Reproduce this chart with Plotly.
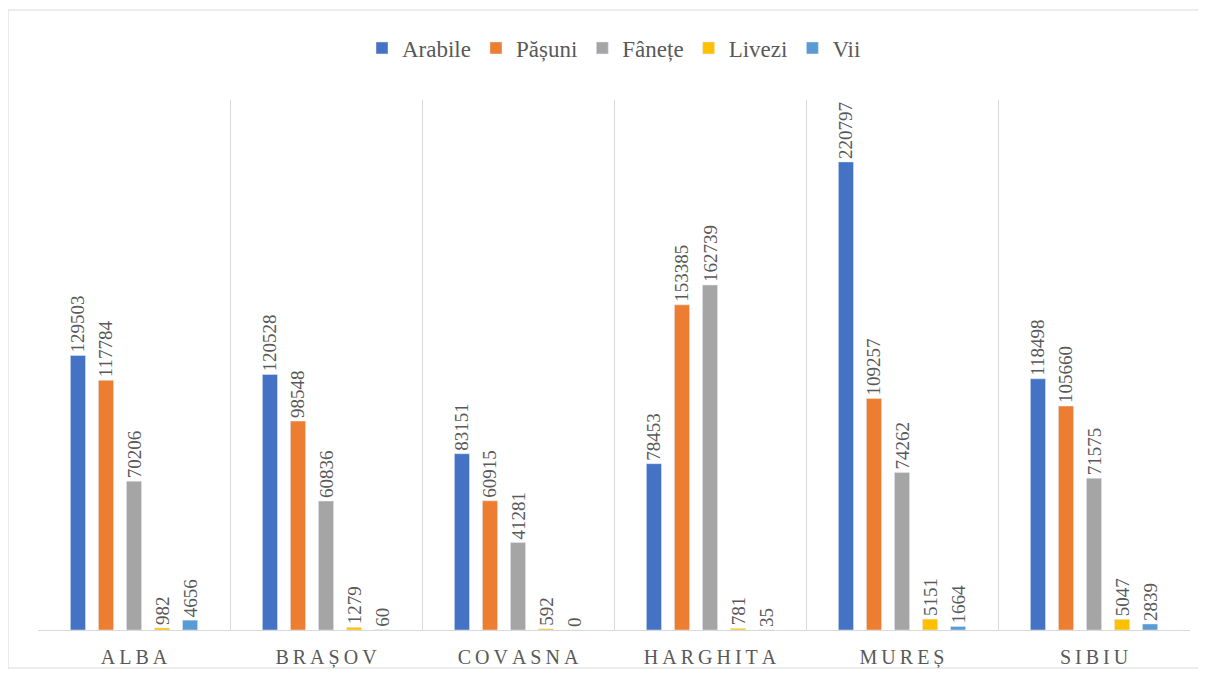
import plotly.graph_objects as go

categories = ["ALBA", "BRAȘOV", "COVASNA", "HARGHITA", "MUREȘ", "SIBIU"]
arabile = [129503, 120528, 83151, 78453, 220797, 118498]
pasuni = [117784, 98548, 60915, 153385, 109257, 105660]
fanete = [70206, 60836, 41281, 162739, 74262, 71575]
livezi = [982, 1279, 592, 781, 5151, 5047]
vii = [4656, 60, 0, 35, 1664, 2839]

series = [
    ("Arabile", arabile, "#4472C4"),
    ("Pășuni", pasuni, "#ED7D31"),
    ("Fânețe", fanete, "#A5A5A5"),
    ("Livezi", livezi, "#FFC000"),
    ("Vii", vii, "#5B9BD5"),
]

FONT = "Liberation Serif, Times New Roman, serif"
TXT = "#595959"

tick_labels = ["\u2009".join(list(c)) for c in categories]

fig = go.Figure()
for name, vals, col in series:
    fig.add_trace(go.Bar(
        name=name, x=categories, y=vals, marker_color=col,
        text=[str(v) for v in vals], textposition="outside", textangle=-90,
        constraintext="none",
        textfont=dict(family=FONT, size=19, color=TXT),
        cliponaxis=False,
    ))

OFF = 8  # page body margin
W, H = 1206 - OFF, 675 - OFF
L, T = 38 - OFF, 100 - OFF
pw, ph = 1152, 530
R, B = W - L - pw, H - T - ph

def px_x(x):
    return (x - OFF - L) / pw

def px_y(y):
    return (T + ph - (y - OFF)) / ph

fig.update_layout(
    width=W, height=H,
    margin=dict(l=L, r=R, t=T, b=B, autoexpand=False),
    barmode="group", bargap=0.27, bargroupgap=0.46,
    plot_bgcolor="white", paper_bgcolor="white",
    font=dict(family=FONT, color=TXT),
    showlegend=True,
    legend=dict(orientation="h", x=0.5, xanchor="center",
                y=px_y(48), yanchor="middle",
                font=dict(family=FONT, size=23, color=TXT),
                itemwidth=30, traceorder="normal"),
    shapes=[dict(type="rect", xref="paper", yref="paper",
                 x0=px_x(8), x1=px_x(1200),
                 y0=px_y(668), y1=px_y(10),
                 line=dict(color="#d9d9d9", width=1), layer="below")],
)
fig.update_xaxes(
    type="category", tickvals=categories, ticktext=tick_labels,
    tickson="boundaries", showgrid=True, gridcolor="#d9d9d9", gridwidth=1,
    showline=True, linecolor="#d9d9d9", linewidth=1,
    ticks="", ticklabelstandoff=9, automargin=False,
    tickfont=dict(family=FONT, size=20, color=TXT),
)
fig.update_yaxes(visible=False, range=[0, 250000])

fig.write_html("out.html")
